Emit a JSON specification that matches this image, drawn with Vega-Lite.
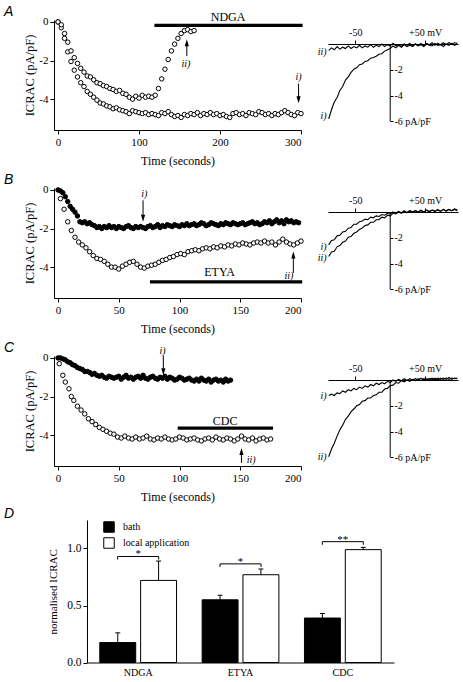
{
  "$schema": "https://vega.github.io/schema/vega-lite/v6.json",
  "padding": {"left": 3, "top": 4, "right": 2, "bottom": 3},
  "background": "white",
  "config": {
    "view": {"stroke": null},
    "font": "Liberation Serif",
    "mark": {"color": "black"},
    "axis": {"domainColor": "black", "tickColor": "black", "labelColor": "black", "titleColor": "black", "labelFont": "Liberation Serif", "titleFont": "Liberation Serif", "labelFontSize": 11, "titleFontSize": 12.5, "titleFontWeight": "normal", "grid": false, "tickSize": 4, "labelPadding": 2, "titlePadding": 5, "domainWidth": 1, "tickWidth": 1},
    "title": {"font": "Liberation Sans", "fontStyle": "italic", "fontWeight": "normal", "fontSize": 14, "anchor": "start", "frame": "group", "color": "black", "offset": -1},
    "text": {"font": "Liberation Serif", "color": "black", "fill": "black"}
  },
  "spacing": 4,
  "resolve": {"legend": {"fill": "independent"}},
  "vconcat": [
    {
      "spacing": 5,
      "vconcat": [
        {
          "hconcat": [
            {
              "width": 247, "height": 110,
              "layer": [
                {"data": {"name": "tA"}, "mark": {"type": "point", "shape": "circle", "filled": true, "stroke": "black", "strokeWidth": 1, "size": 20, "opacity": 1, "fillOpacity": 1, "fill": "white"},
                 "encoding": {
                   "x": {"field": "t", "type": "quantitative", "scale": {"domain": [-5, 300], "nice": false, "zero": false}, "axis": {"values": [0, 100, 200, 300], "title": "Time (seconds)", "titleFontSize": 12, "titlePadding": 8.5}},
                   "y": {"field": "v", "type": "quantitative", "scale": {"domain": [-5.6, 0.1], "nice": false, "zero": false}, "axis": {"values": [0, -2, -4], "labelExpr": "'' + datum.value", "title": "ICRAC (pA/pF)", "titlePadding": 2}}
                 }},
                {"data": {"values": [{}]}, "mark": {"type": "text", "text": "A", "font": "Liberation Sans", "fontStyle": "italic", "fontSize": 14, "align": "left", "baseline": "alphabetic", "color": "black"}, "encoding": {"x": {"datum": -66.7}, "y": {"datum": 0.33}}},
                {"data": {"values": [{}]}, "mark": {"type": "rule", "strokeWidth": 3.3, "color": "black"}, "encoding": {"x": {"datum": 119}, "x2": {"datum": 302}, "y": {"datum": -0.18}}},
                {"data": {"values": [{}]}, "mark": {"type": "text", "text": "NDGA", "fontSize": 12, "baseline": "middle", "color": "black"}, "encoding": {"x": {"datum": 210}, "y": {"datum": 0.28}}},
                {"data": {"values": [{}]}, "mark": {"type": "rule", "color": "black"}, "encoding": {"x": {"datum": 297}, "y": {"datum": -3.2}, "y2": {"datum": -4.0}}},
                {"data": {"values": [{}]}, "mark": {"type": "point", "shape": "M0,0L-0.6,-2L0.6,-2Z", "size": 49, "filled": true, "color": "black", "opacity": 1, "strokeWidth": 0}, "encoding": {"x": {"datum": 297}, "y": {"datum": -4.22}}},
                {"data": {"values": [{}]}, "mark": {"type": "text", "text": "i)", "fontStyle": "italic", "fontSize": 10, "baseline": "middle", "color": "black"}, "encoding": {"x": {"datum": 297}, "y": {"datum": -2.85}}},
                {"data": {"values": [{}]}, "mark": {"type": "rule", "color": "black"}, "encoding": {"x": {"datum": 159}, "y": {"datum": -1.76}, "y2": {"datum": -1.1}}},
                {"data": {"values": [{}]}, "mark": {"type": "point", "shape": "M0,0L-0.6,2L0.6,2Z", "size": 49, "filled": true, "color": "black", "opacity": 1, "strokeWidth": 0}, "encoding": {"x": {"datum": 159}, "y": {"datum": -0.9}}},
                {"data": {"values": [{}]}, "mark": {"type": "text", "text": "ii)", "fontStyle": "italic", "fontSize": 10, "baseline": "middle", "color": "black"}, "encoding": {"x": {"datum": 158}, "y": {"datum": -2.2}}}
              ]
            },
            {
              "width": 130, "height": 101.4,
              "layer": [
                {"data": {"name": "ivA"}, "mark": {"type": "line", "color": "black", "strokeWidth": 1.1},
                 "encoding": {
                   "x": {"field": "V", "type": "quantitative", "scale": {"domain": [-89, 97], "nice": false, "zero": false}, "axis": {"orient": "top", "offset": -24, "values": [-50, 50], "labelExpr": "datum.value > 0 ? '+50 mV' : '-50'", "title": null, "labelFontSize": 10, "labelPadding": 3}},
                   "y": {"field": "I", "type": "quantitative", "scale": {"domain": [-6, 1.86], "nice": false, "zero": false}, "axis": {"orient": "right", "offset": -68, "values": [-2, -4, -6], "labelExpr": "datum.value == -6 ? '-6 pA/pF' : '' + datum.value", "domain": false, "title": null, "labelFontSize": 10, "tickSize": 3, "labelPadding": 1}},
                   "detail": {"field": "s"}
                 }},
                {"data": {"values": [{}]}, "mark": {"type": "rule", "color": "black"}, "encoding": {"x": {"datum": 0}, "y": {"datum": 0}, "y2": {"datum": -6}}},
                {"data": {"values": [{}]}, "mark": {"type": "text", "text": "ii)", "fontStyle": "italic", "fontSize": 10, "align": "right", "baseline": "middle", "color": "black"}, "encoding": {"x": {"datum": -91}, "y": {"datum": -0.6}}},
                {"data": {"values": [{}]}, "mark": {"type": "text", "text": "i)", "fontStyle": "italic", "fontSize": 10, "align": "right", "baseline": "middle", "color": "black"}, "encoding": {"x": {"datum": -91}, "y": {"datum": -5.6}}}
              ]
            }
          ],
          "spacing": 27,
          "bounds": "flush"
        },
        {
          "hconcat": [
            {
              "width": 247, "height": 110,
              "layer": [
                {"data": {"name": "tB"}, "mark": {"type": "point", "shape": "circle", "filled": true, "stroke": "black", "strokeWidth": 1, "size": 20, "opacity": 1, "fillOpacity": 1},
                 "encoding": {
                   "x": {"field": "t", "type": "quantitative", "scale": {"domain": [-3.3, 200], "nice": false, "zero": false}, "axis": {"values": [0, 50, 100, 150, 200], "title": "Time (seconds)", "titleFontSize": 12, "titlePadding": 8.5}},
                   "y": {"field": "v", "type": "quantitative", "scale": {"domain": [-5.6, 0.1], "nice": false, "zero": false}, "axis": {"values": [0, -2, -4], "labelExpr": "'' + datum.value", "title": "ICRAC (pA/pF)", "titlePadding": 2}},
                   "fill": {"condition": {"test": "datum.s == 'F'", "value": "black"}, "value": "white"}
                 }},
                {"data": {"values": [{}]}, "mark": {"type": "text", "text": "B", "font": "Liberation Sans", "fontStyle": "italic", "fontSize": 14, "align": "left", "baseline": "alphabetic", "color": "black"}, "encoding": {"x": {"datum": -44.5}, "y": {"datum": 0.33}}},
                {"data": {"values": [{}]}, "mark": {"type": "rule", "strokeWidth": 3.3, "color": "black"}, "encoding": {"x": {"datum": 75.7}, "x2": {"datum": 201}, "y": {"datum": -4.76}}},
                {"data": {"values": [{}]}, "mark": {"type": "text", "text": "ETYA", "fontSize": 12, "baseline": "middle", "color": "black"}, "encoding": {"x": {"datum": 133}, "y": {"datum": -4.23}}},
                {"data": {"values": [{}]}, "mark": {"type": "rule", "color": "black"}, "encoding": {"x": {"datum": 70}, "y": {"datum": -0.54}, "y2": {"datum": -1.3}}},
                {"data": {"values": [{}]}, "mark": {"type": "point", "shape": "M0,0L-0.6,-2L0.6,-2Z", "size": 49, "filled": true, "color": "black", "opacity": 1, "strokeWidth": 0}, "encoding": {"x": {"datum": 70}, "y": {"datum": -1.65}}},
                {"data": {"values": [{}]}, "mark": {"type": "text", "text": "i)", "fontStyle": "italic", "fontSize": 10, "baseline": "middle", "color": "black"}, "encoding": {"x": {"datum": 71}, "y": {"datum": -0.23}}},
                {"data": {"values": [{}]}, "mark": {"type": "rule", "color": "black"}, "encoding": {"x": {"datum": 193.7}, "y": {"datum": -4.3}, "y2": {"datum": -3.5}}},
                {"data": {"values": [{}]}, "mark": {"type": "point", "shape": "M0,0L-0.6,2L0.6,2Z", "size": 49, "filled": true, "color": "black", "opacity": 1, "strokeWidth": 0}, "encoding": {"x": {"datum": 193.7}, "y": {"datum": -3.19}}},
                {"data": {"values": [{}]}, "mark": {"type": "text", "text": "ii)", "fontStyle": "italic", "fontSize": 10, "baseline": "middle", "color": "black"}, "encoding": {"x": {"datum": 190}, "y": {"datum": -4.47}}}
              ]
            },
            {
              "width": 130, "height": 101.4,
              "layer": [
                {"data": {"name": "ivB"}, "mark": {"type": "line", "color": "black", "strokeWidth": 1.1},
                 "encoding": {
                   "x": {"field": "V", "type": "quantitative", "scale": {"domain": [-89, 97], "nice": false, "zero": false}, "axis": {"orient": "top", "offset": -24, "values": [-50, 50], "labelExpr": "datum.value > 0 ? '+50 mV' : '-50'", "title": null, "labelFontSize": 10, "labelPadding": 3}},
                   "y": {"field": "I", "type": "quantitative", "scale": {"domain": [-6, 1.86], "nice": false, "zero": false}, "axis": {"orient": "right", "offset": -68, "values": [-2, -4, -6], "labelExpr": "datum.value == -6 ? '-6 pA/pF' : '' + datum.value", "domain": false, "title": null, "labelFontSize": 10, "tickSize": 3, "labelPadding": 1}},
                   "detail": {"field": "s"}
                 }},
                {"data": {"values": [{}]}, "mark": {"type": "rule", "color": "black"}, "encoding": {"x": {"datum": 0}, "y": {"datum": 0}, "y2": {"datum": -6}}},
                {"data": {"values": [{}]}, "mark": {"type": "text", "text": "i)", "fontStyle": "italic", "fontSize": 10, "align": "right", "baseline": "middle", "color": "black"}, "encoding": {"x": {"datum": -91}, "y": {"datum": -2.75}}},
                {"data": {"values": [{}]}, "mark": {"type": "text", "text": "ii)", "fontStyle": "italic", "fontSize": 10, "align": "right", "baseline": "middle", "color": "black"}, "encoding": {"x": {"datum": -91}, "y": {"datum": -3.55}}}
              ]
            }
          ],
          "spacing": 27,
          "bounds": "flush"
        },
        {
          "hconcat": [
            {
              "width": 247, "height": 110,
              "layer": [
                {"data": {"name": "tC"}, "mark": {"type": "point", "shape": "circle", "filled": true, "stroke": "black", "strokeWidth": 1, "size": 20, "opacity": 1, "fillOpacity": 1},
                 "encoding": {
                   "x": {"field": "t", "type": "quantitative", "scale": {"domain": [-3.3, 200], "nice": false, "zero": false}, "axis": {"values": [0, 50, 100, 150, 200], "title": "Time (seconds)", "titleFontSize": 12, "titlePadding": 8.5}},
                   "y": {"field": "v", "type": "quantitative", "scale": {"domain": [-5.6, 0.1], "nice": false, "zero": false}, "axis": {"values": [0, -2, -4], "labelExpr": "'' + datum.value", "title": "ICRAC (pA/pF)", "titlePadding": 2}},
                   "fill": {"condition": {"test": "datum.s == 'F'", "value": "black"}, "value": "white"}
                 }},
                {"data": {"values": [{}]}, "mark": {"type": "text", "text": "C", "font": "Liberation Sans", "fontStyle": "italic", "fontSize": 14, "align": "left", "baseline": "alphabetic", "color": "black"}, "encoding": {"x": {"datum": -44.5}, "y": {"datum": 0.33}}},
                {"data": {"values": [{}]}, "mark": {"type": "rule", "strokeWidth": 3.3, "color": "black"}, "encoding": {"x": {"datum": 98.5}, "x2": {"datum": 177}, "y": {"datum": -3.64}}},
                {"data": {"values": [{}]}, "mark": {"type": "text", "text": "CDC", "fontSize": 12, "baseline": "middle", "color": "black"}, "encoding": {"x": {"datum": 137.5}, "y": {"datum": -3.27}}},
                {"data": {"values": [{}]}, "mark": {"type": "rule", "color": "black"}, "encoding": {"x": {"datum": 86.7}, "y": {"datum": 0.12}, "y2": {"datum": -0.55}}},
                {"data": {"values": [{}]}, "mark": {"type": "point", "shape": "M0,0L-0.6,-2L0.6,-2Z", "size": 49, "filled": true, "color": "black", "opacity": 1, "strokeWidth": 0}, "encoding": {"x": {"datum": 86.7}, "y": {"datum": -0.9}}},
                {"data": {"values": [{}]}, "mark": {"type": "text", "text": "i)", "fontStyle": "italic", "fontSize": 10, "baseline": "middle", "color": "black"}, "encoding": {"x": {"datum": 86}, "y": {"datum": 0.37}}},
                {"data": {"values": [{}]}, "mark": {"type": "rule", "color": "black"}, "encoding": {"x": {"datum": 151}, "y": {"datum": -5.44}, "y2": {"datum": -5.0}}},
                {"data": {"values": [{}]}, "mark": {"type": "point", "shape": "M0,0L-0.6,2L0.6,2Z", "size": 49, "filled": true, "color": "black", "opacity": 1, "strokeWidth": 0}, "encoding": {"x": {"datum": 151}, "y": {"datum": -4.67}}},
                {"data": {"values": [{}]}, "mark": {"type": "text", "text": "ii)", "fontStyle": "italic", "fontSize": 10, "baseline": "middle", "color": "black"}, "encoding": {"x": {"datum": 159}, "y": {"datum": -5.3}}}
              ]
            },
            {
              "width": 130, "height": 101.4,
              "layer": [
                {"data": {"name": "ivC"}, "mark": {"type": "line", "color": "black", "strokeWidth": 1.1},
                 "encoding": {
                   "x": {"field": "V", "type": "quantitative", "scale": {"domain": [-89, 97], "nice": false, "zero": false}, "axis": {"orient": "top", "offset": -24, "values": [-50, 50], "labelExpr": "datum.value > 0 ? '+50 mV' : '-50'", "title": null, "labelFontSize": 10, "labelPadding": 3}},
                   "y": {"field": "I", "type": "quantitative", "scale": {"domain": [-6, 1.86], "nice": false, "zero": false}, "axis": {"orient": "right", "offset": -68, "values": [-2, -4, -6], "labelExpr": "datum.value == -6 ? '-6 pA/pF' : '' + datum.value", "domain": false, "title": null, "labelFontSize": 10, "tickSize": 3, "labelPadding": 1}},
                   "detail": {"field": "s"}
                 }},
                {"data": {"values": [{}]}, "mark": {"type": "rule", "color": "black"}, "encoding": {"x": {"datum": 0}, "y": {"datum": 0}, "y2": {"datum": -6}}},
                {"data": {"values": [{}]}, "mark": {"type": "text", "text": "i)", "fontStyle": "italic", "fontSize": 10, "align": "right", "baseline": "middle", "color": "black"}, "encoding": {"x": {"datum": -91}, "y": {"datum": -1.25}}},
                {"data": {"values": [{}]}, "mark": {"type": "text", "text": "ii)", "fontStyle": "italic", "fontSize": 10, "align": "right", "baseline": "middle", "color": "black"}, "encoding": {"x": {"datum": -91}, "y": {"datum": -6.0}}}
              ]
            }
          ],
          "spacing": 27,
          "bounds": "flush"
        }
      ]
    },
    {
      "hconcat": [
        {"width": 1, "height": 1, "data": {"values": [{}]}, "mark": {"type": "text", "text": ""}, "encoding": {}},
        {
          "title": {"text": "D", "dx": -83},
          "width": 307, "height": 142.5,
          "layer": [
            {"data": {"name": "bars"}, "mark": {"type": "bar", "stroke": "black", "strokeWidth": 1},
             "encoding": {
               "x": {"field": "c", "type": "nominal", "sort": ["NDGA", "ETYA", "CDC"], "scale": {"paddingInner": 0.25, "paddingOuter": 0.125}, "axis": {"title": null, "labelAngle": 0, "ticks": false, "labelFontSize": 10, "labelPadding": 5}},
               "xOffset": {"field": "g", "type": "nominal", "sort": ["bath", "local application"], "scale": {"paddingInner": 0.12}},
               "y": {"field": "m", "type": "quantitative", "scale": {"domain": [0, 1.25], "nice": false}, "axis": {"values": [0, 0.5, 1], "format": ".1f", "title": "normalised ICRAC", "labelFontSize": 11.5, "titleFontSize": 11, "labelPadding": 2, "titlePadding": 8}},
               "fill": {"field": "g", "type": "nominal", "scale": {"domain": ["bath", "local application"], "range": ["black", "white"]}, "legend": {"orient": "none", "legendX": 16, "legendY": 1, "title": null, "symbolType": "square", "symbolSize": 110, "symbolStrokeColor": "black", "symbolStrokeWidth": 1, "symbolOpacity": 1, "labelFont": "Liberation Serif", "labelFontSize": 10, "labelColor": "black", "labelOffset": 8, "rowPadding": 0, "padding": 0}}
             }},
            {"data": {"name": "bars"}, "mark": {"type": "rule", "color": "black", "strokeWidth": 1},
             "encoding": {
               "x": {"field": "c", "type": "nominal", "sort": ["NDGA", "ETYA", "CDC"]},
               "xOffset": {"field": "g", "type": "nominal", "sort": ["bath", "local application"]},
               "y": {"field": "m", "type": "quantitative"},
               "y2": {"field": "e"}
             }},
            {"data": {"name": "bars"}, "mark": {"type": "tick", "color": "black", "thickness": 1, "size": 5, "orient": "horizontal", "opacity": 1},
             "encoding": {
               "x": {"field": "c", "type": "nominal", "sort": ["NDGA", "ETYA", "CDC"]},
               "xOffset": {"field": "g", "type": "nominal", "sort": ["bath", "local application"]},
               "y": {"field": "e", "type": "quantitative"}
             }},
            {"data": {"name": "sig"}, "mark": {"type": "point", "shape": "M-1,0.15L-1,0L1,0L1,0.15", "size": 1681, "filled": false, "stroke": "black", "strokeWidth": 1, "opacity": 1},
             "encoding": {
               "x": {"field": "c", "type": "nominal", "sort": ["NDGA", "ETYA", "CDC"]},
               "y": {"field": "h", "type": "quantitative"}
             }},
            {"data": {"name": "sig"}, "mark": {"type": "text", "fontSize": 11, "baseline": "alphabetic", "dy": 1, "color": "black"},
             "encoding": {
               "x": {"field": "c", "type": "nominal", "sort": ["NDGA", "ETYA", "CDC"]},
               "y": {"field": "h", "type": "quantitative"},
               "text": {"field": "sig"}
             }}
          ]
        }
      ],
      "spacing": 32,
      "bounds": "flush",
      "resolve": {"legend": {"fill": "independent"}}
    }
  ],
  "datasets": {
    "bars": [
      {"c": "NDGA", "g": "bath", "m": 0.175, "e": 0.26},
      {"c": "NDGA", "g": "local application", "m": 0.72, "e": 0.89},
      {"c": "ETYA", "g": "bath", "m": 0.55, "e": 0.59},
      {"c": "ETYA", "g": "local application", "m": 0.77, "e": 0.82},
      {"c": "CDC", "g": "bath", "m": 0.39, "e": 0.43},
      {"c": "CDC", "g": "local application", "m": 0.99, "e": 1.01}
    ],
    "sig": [
      {"c": "NDGA", "h": 0.93, "sig": "*"},
      {"c": "ETYA", "h": 0.865, "sig": "*"},
      {"c": "CDC", "h": 1.06, "sig": "**"}
    ],
    "tA": [
      {"s":"L","t":0,"v":0},{"s":"L","t":4,"v":-0.3},{"s":"L","t":8,"v":-0.85},{"s":"L","t":12,"v":-1.55},{"s":"L","t":16,"v":-2.05},{"s":"L","t":20,"v":-2.5},{"s":"L","t":24,"v":-2.85},{"s":"L","t":28,"v":-3.15},{"s":"L","t":32,"v":-3.35},{"s":"L","t":36,"v":-3.6},{"s":"L","t":40,"v":-3.75},{"s":"L","t":44,"v":-3.9},{"s":"L","t":48,"v":-4.05},{"s":"L","t":52,"v":-4.2},{"s":"L","t":56,"v":-4.25},{"s":"L","t":60,"v":-4.35},{"s":"L","t":64,"v":-4.4},{"s":"L","t":68,"v":-4.5},{"s":"L","t":72,"v":-4.45},{"s":"L","t":76,"v":-4.55},{"s":"L","t":80,"v":-4.6},{"s":"L","t":84,"v":-4.65},{"s":"L","t":88,"v":-4.75},{"s":"L","t":92,"v":-4.6},{"s":"L","t":96,"v":-4.65},{"s":"L","t":100,"v":-4.7},{"s":"L","t":104,"v":-4.75},{"s":"L","t":108,"v":-4.7},{"s":"L","t":112,"v":-4.8},{"s":"L","t":116,"v":-4.75},{"s":"L","t":120,"v":-4.8},{"s":"L","t":124,"v":-4.85},{"s":"L","t":128,"v":-4.7},{"s":"L","t":132,"v":-4.75},{"s":"L","t":136,"v":-4.65},{"s":"L","t":140,"v":-4.8},{"s":"L","t":144,"v":-4.9},{"s":"L","t":148,"v":-4.85},{"s":"L","t":152,"v":-4.95},{"s":"L","t":156,"v":-4.8},{"s":"L","t":160,"v":-4.85},{"s":"L","t":164,"v":-4.75},{"s":"L","t":168,"v":-4.8},{"s":"L","t":172,"v":-4.7},{"s":"L","t":176,"v":-4.85},{"s":"L","t":180,"v":-4.75},{"s":"L","t":184,"v":-4.8},{"s":"L","t":188,"v":-4.7},{"s":"L","t":192,"v":-4.8},{"s":"L","t":196,"v":-4.75},{"s":"L","t":200,"v":-4.85},{"s":"L","t":204,"v":-4.8},{"s":"L","t":208,"v":-4.9},{"s":"L","t":212,"v":-4.95},{"s":"L","t":216,"v":-4.75},{"s":"L","t":220,"v":-4.7},{"s":"L","t":224,"v":-4.8},{"s":"L","t":228,"v":-4.75},{"s":"L","t":232,"v":-4.85},{"s":"L","t":236,"v":-4.7},{"s":"L","t":240,"v":-4.75},{"s":"L","t":244,"v":-4.8},{"s":"L","t":248,"v":-4.65},{"s":"L","t":252,"v":-4.7},{"s":"L","t":256,"v":-4.8},{"s":"L","t":260,"v":-4.75},{"s":"L","t":264,"v":-4.85},{"s":"L","t":268,"v":-4.75},{"s":"L","t":272,"v":-4.8},{"s":"L","t":276,"v":-4.7},{"s":"L","t":280,"v":-4.6},{"s":"L","t":284,"v":-4.7},{"s":"L","t":288,"v":-4.8},{"s":"L","t":292,"v":-4.85},{"s":"L","t":296,"v":-4.7},{"s":"L","t":300,"v":-4.75},
      {"s":"U","t":0,"v":0},{"s":"U","t":4,"v":-0.15},{"s":"U","t":8,"v":-0.6},{"s":"U","t":12,"v":-1.05},{"s":"U","t":16,"v":-1.5},{"s":"U","t":20,"v":-1.85},{"s":"U","t":24,"v":-2.15},{"s":"U","t":28,"v":-2.4},{"s":"U","t":32,"v":-2.6},{"s":"U","t":36,"v":-2.8},{"s":"U","t":40,"v":-2.85},{"s":"U","t":44,"v":-3.0},{"s":"U","t":48,"v":-3.15},{"s":"U","t":52,"v":-3.2},{"s":"U","t":56,"v":-3.3},{"s":"U","t":60,"v":-3.35},{"s":"U","t":64,"v":-3.45},{"s":"U","t":68,"v":-3.5},{"s":"U","t":72,"v":-3.6},{"s":"U","t":76,"v":-3.55},{"s":"U","t":80,"v":-3.7},{"s":"U","t":84,"v":-3.75},{"s":"U","t":88,"v":-3.9},{"s":"U","t":92,"v":-4.0},{"s":"U","t":96,"v":-3.85},{"s":"U","t":100,"v":-3.95},{"s":"U","t":104,"v":-3.8},{"s":"U","t":108,"v":-3.9},{"s":"U","t":112,"v":-3.85},{"s":"U","t":116,"v":-3.9},{"s":"U","t":120,"v":-3.8},{"s":"U","t":124,"v":-3.45},{"s":"U","t":128,"v":-2.95},{"s":"U","t":132,"v":-2.45},{"s":"U","t":136,"v":-1.95},{"s":"U","t":140,"v":-1.5},{"s":"U","t":144,"v":-1.15},{"s":"U","t":148,"v":-0.85},{"s":"U","t":152,"v":-0.6},{"s":"U","t":156,"v":-0.45},{"s":"U","t":160,"v":-0.4},{"s":"U","t":164,"v":-0.5},{"s":"U","t":168,"v":-0.45}
    ],
    "tB": [
      {"s":"O","t":2,"v":-0.45},{"s":"O","t":5,"v":-1.0},{"s":"O","t":8,"v":-1.65},{"s":"O","t":11,"v":-2.1},{"s":"O","t":14,"v":-2.45},{"s":"O","t":17,"v":-2.7},{"s":"O","t":20,"v":-2.85},{"s":"O","t":23,"v":-3.0},{"s":"O","t":26,"v":-3.2},{"s":"O","t":29,"v":-3.4},{"s":"O","t":32,"v":-3.55},{"s":"O","t":35,"v":-3.6},{"s":"O","t":38,"v":-3.7},{"s":"O","t":41,"v":-3.85},{"s":"O","t":44,"v":-4.0},{"s":"O","t":47,"v":-4.0},{"s":"O","t":50,"v":-4.1},{"s":"O","t":53,"v":-3.95},{"s":"O","t":56,"v":-3.85},{"s":"O","t":59,"v":-3.75},{"s":"O","t":62,"v":-3.7},{"s":"O","t":65,"v":-3.85},{"s":"O","t":68,"v":-4.0},{"s":"O","t":71,"v":-4.05},{"s":"O","t":74,"v":-3.95},{"s":"O","t":77,"v":-3.9},{"s":"O","t":80,"v":-3.85},{"s":"O","t":83,"v":-3.75},{"s":"O","t":86,"v":-3.65},{"s":"O","t":89,"v":-3.6},{"s":"O","t":92,"v":-3.5},{"s":"O","t":95,"v":-3.45},{"s":"O","t":98,"v":-3.35},{"s":"O","t":101,"v":-3.3},{"s":"O","t":104,"v":-3.35},{"s":"O","t":107,"v":-3.2},{"s":"O","t":110,"v":-3.15},{"s":"O","t":113,"v":-3.1},{"s":"O","t":116,"v":-3.15},{"s":"O","t":119,"v":-3.05},{"s":"O","t":122,"v":-3.0},{"s":"O","t":125,"v":-3.05},{"s":"O","t":128,"v":-2.95},{"s":"O","t":131,"v":-3.0},{"s":"O","t":134,"v":-2.9},{"s":"O","t":137,"v":-2.95},{"s":"O","t":140,"v":-2.85},{"s":"O","t":143,"v":-2.9},{"s":"O","t":146,"v":-2.8},{"s":"O","t":149,"v":-2.85},{"s":"O","t":152,"v":-2.75},{"s":"O","t":155,"v":-2.8},{"s":"O","t":158,"v":-2.85},{"s":"O","t":161,"v":-2.75},{"s":"O","t":164,"v":-2.7},{"s":"O","t":167,"v":-2.75},{"s":"O","t":170,"v":-2.65},{"s":"O","t":173,"v":-2.75},{"s":"O","t":176,"v":-2.7},{"s":"O","t":179,"v":-2.85},{"s":"O","t":182,"v":-2.7},{"s":"O","t":185,"v":-2.55},{"s":"O","t":188,"v":-2.7},{"s":"O","t":191,"v":-2.8},{"s":"O","t":194,"v":-2.85},{"s":"O","t":197,"v":-2.75},{"s":"O","t":200,"v":-2.65},
      {"s":"F","t":0,"v":0},{"s":"F","t":2,"v":-0.05},{"s":"F","t":4,"v":-0.15},{"s":"F","t":6,"v":-0.35},{"s":"F","t":8,"v":-0.6},{"s":"F","t":10,"v":-0.85},{"s":"F","t":12,"v":-1.0},{"s":"F","t":14,"v":-1.15},{"s":"F","t":16,"v":-1.35},{"s":"F","t":18,"v":-1.65},{"s":"F","t":20,"v":-1.7},{"s":"F","t":22,"v":-1.65},{"s":"F","t":24,"v":-1.75},{"s":"F","t":26,"v":-1.7},{"s":"F","t":28,"v":-1.8},{"s":"F","t":30,"v":-1.85},{"s":"F","t":32,"v":-1.95},{"s":"F","t":34,"v":-1.9},{"s":"F","t":36,"v":-2.0},{"s":"F","t":38,"v":-1.9},{"s":"F","t":40,"v":-1.95},{"s":"F","t":42,"v":-1.85},{"s":"F","t":44,"v":-1.95},{"s":"F","t":46,"v":-1.9},{"s":"F","t":48,"v":-2.0},{"s":"F","t":50,"v":-1.9},{"s":"F","t":52,"v":-1.95},{"s":"F","t":54,"v":-2.0},{"s":"F","t":56,"v":-1.9},{"s":"F","t":58,"v":-1.85},{"s":"F","t":60,"v":-1.95},{"s":"F","t":62,"v":-2.0},{"s":"F","t":64,"v":-1.9},{"s":"F","t":66,"v":-1.95},{"s":"F","t":68,"v":-1.9},{"s":"F","t":70,"v":-1.95},{"s":"F","t":72,"v":-2.0},{"s":"F","t":74,"v":-1.9},{"s":"F","t":76,"v":-1.85},{"s":"F","t":78,"v":-1.95},{"s":"F","t":80,"v":-1.9},{"s":"F","t":82,"v":-1.8},{"s":"F","t":84,"v":-1.95},{"s":"F","t":86,"v":-1.85},{"s":"F","t":88,"v":-1.9},{"s":"F","t":90,"v":-1.8},{"s":"F","t":92,"v":-1.85},{"s":"F","t":94,"v":-1.9},{"s":"F","t":96,"v":-1.8},{"s":"F","t":98,"v":-1.85},{"s":"F","t":100,"v":-1.9},{"s":"F","t":102,"v":-1.8},{"s":"F","t":104,"v":-1.85},{"s":"F","t":106,"v":-1.75},{"s":"F","t":108,"v":-1.85},{"s":"F","t":110,"v":-1.8},{"s":"F","t":112,"v":-1.75},{"s":"F","t":114,"v":-1.85},{"s":"F","t":116,"v":-1.8},{"s":"F","t":118,"v":-1.7},{"s":"F","t":120,"v":-1.75},{"s":"F","t":122,"v":-1.85},{"s":"F","t":124,"v":-1.8},{"s":"F","t":126,"v":-1.7},{"s":"F","t":128,"v":-1.75},{"s":"F","t":130,"v":-1.8},{"s":"F","t":132,"v":-1.85},{"s":"F","t":134,"v":-1.75},{"s":"F","t":136,"v":-1.8},{"s":"F","t":138,"v":-1.7},{"s":"F","t":140,"v":-1.75},{"s":"F","t":142,"v":-1.8},{"s":"F","t":144,"v":-1.7},{"s":"F","t":146,"v":-1.75},{"s":"F","t":148,"v":-1.8},{"s":"F","t":150,"v":-1.75},{"s":"F","t":152,"v":-1.7},{"s":"F","t":154,"v":-1.8},{"s":"F","t":156,"v":-1.75},{"s":"F","t":158,"v":-1.7},{"s":"F","t":160,"v":-1.65},{"s":"F","t":162,"v":-1.75},{"s":"F","t":164,"v":-1.7},{"s":"F","t":166,"v":-1.8},{"s":"F","t":168,"v":-1.75},{"s":"F","t":170,"v":-1.65},{"s":"F","t":172,"v":-1.7},{"s":"F","t":174,"v":-1.6},{"s":"F","t":176,"v":-1.75},{"s":"F","t":178,"v":-1.65},{"s":"F","t":180,"v":-1.55},{"s":"F","t":182,"v":-1.7},{"s":"F","t":184,"v":-1.6},{"s":"F","t":186,"v":-1.75},{"s":"F","t":188,"v":-1.55},{"s":"F","t":190,"v":-1.65},{"s":"F","t":192,"v":-1.6},{"s":"F","t":194,"v":-1.7},{"s":"F","t":196,"v":-1.65},{"s":"F","t":198,"v":-1.7}
    ],
    "tC": [
      {"s":"O","t":1,"v":-0.3},{"s":"O","t":4,"v":-0.9},{"s":"O","t":6,"v":-1.25},{"s":"O","t":9,"v":-1.6},{"s":"O","t":11,"v":-2.0},{"s":"O","t":13,"v":-2.2},{"s":"O","t":16,"v":-2.5},{"s":"O","t":19,"v":-2.7},{"s":"O","t":22,"v":-2.9},{"s":"O","t":25,"v":-3.15},{"s":"O","t":28,"v":-3.3},{"s":"O","t":31,"v":-3.45},{"s":"O","t":34,"v":-3.6},{"s":"O","t":37,"v":-3.7},{"s":"O","t":40,"v":-3.8},{"s":"O","t":43,"v":-3.9},{"s":"O","t":46,"v":-3.95},{"s":"O","t":49,"v":-4.1},{"s":"O","t":52,"v":-4.15},{"s":"O","t":55,"v":-4.05},{"s":"O","t":58,"v":-4.15},{"s":"O","t":61,"v":-4.2},{"s":"O","t":64,"v":-4.1},{"s":"O","t":67,"v":-4.2},{"s":"O","t":70,"v":-4.15},{"s":"O","t":73,"v":-4.05},{"s":"O","t":76,"v":-4.2},{"s":"O","t":79,"v":-4.25},{"s":"O","t":82,"v":-4.15},{"s":"O","t":85,"v":-4.2},{"s":"O","t":88,"v":-4.1},{"s":"O","t":91,"v":-4.2},{"s":"O","t":94,"v":-4.25},{"s":"O","t":97,"v":-4.2},{"s":"O","t":100,"v":-4.1},{"s":"O","t":103,"v":-4.15},{"s":"O","t":106,"v":-4.25},{"s":"O","t":109,"v":-4.2},{"s":"O","t":112,"v":-4.15},{"s":"O","t":115,"v":-4.25},{"s":"O","t":118,"v":-4.3},{"s":"O","t":121,"v":-4.2},{"s":"O","t":124,"v":-4.15},{"s":"O","t":127,"v":-4.25},{"s":"O","t":130,"v":-4.1},{"s":"O","t":133,"v":-4.2},{"s":"O","t":136,"v":-4.25},{"s":"O","t":139,"v":-4.15},{"s":"O","t":142,"v":-4.2},{"s":"O","t":145,"v":-4.3},{"s":"O","t":148,"v":-4.2},{"s":"O","t":151,"v":-4.05},{"s":"O","t":154,"v":-4.2},{"s":"O","t":157,"v":-4.25},{"s":"O","t":160,"v":-4.15},{"s":"O","t":163,"v":-4.3},{"s":"O","t":166,"v":-4.2},{"s":"O","t":169,"v":-4.15},{"s":"O","t":172,"v":-4.25},{"s":"O","t":175,"v":-4.2},
      {"s":"F","t":0,"v":0},{"s":"F","t":2,"v":0},{"s":"F","t":4,"v":-0.05},{"s":"F","t":6,"v":-0.1},{"s":"F","t":8,"v":-0.2},{"s":"F","t":10,"v":-0.25},{"s":"F","t":12,"v":-0.35},{"s":"F","t":14,"v":-0.4},{"s":"F","t":16,"v":-0.5},{"s":"F","t":18,"v":-0.55},{"s":"F","t":20,"v":-0.6},{"s":"F","t":22,"v":-0.7},{"s":"F","t":24,"v":-0.7},{"s":"F","t":26,"v":-0.75},{"s":"F","t":28,"v":-0.85},{"s":"F","t":30,"v":-0.8},{"s":"F","t":32,"v":-0.9},{"s":"F","t":34,"v":-0.95},{"s":"F","t":36,"v":-0.9},{"s":"F","t":38,"v":-1.0},{"s":"F","t":40,"v":-1.05},{"s":"F","t":42,"v":-0.95},{"s":"F","t":44,"v":-1.0},{"s":"F","t":46,"v":-1.05},{"s":"F","t":48,"v":-1.0},{"s":"F","t":50,"v":-0.95},{"s":"F","t":52,"v":-1.1},{"s":"F","t":54,"v":-1.0},{"s":"F","t":56,"v":-0.9},{"s":"F","t":58,"v":-1.05},{"s":"F","t":60,"v":-1.0},{"s":"F","t":62,"v":-1.1},{"s":"F","t":64,"v":-1.0},{"s":"F","t":66,"v":-0.95},{"s":"F","t":68,"v":-1.05},{"s":"F","t":70,"v":-0.9},{"s":"F","t":72,"v":-1.05},{"s":"F","t":74,"v":-1.1},{"s":"F","t":76,"v":-1.0},{"s":"F","t":78,"v":-0.95},{"s":"F","t":80,"v":-1.05},{"s":"F","t":82,"v":-1.1},{"s":"F","t":84,"v":-1.0},{"s":"F","t":86,"v":-1.05},{"s":"F","t":88,"v":-0.95},{"s":"F","t":90,"v":-1.1},{"s":"F","t":92,"v":-1.0},{"s":"F","t":94,"v":-1.05},{"s":"F","t":96,"v":-1.15},{"s":"F","t":98,"v":-1.1},{"s":"F","t":100,"v":-1.0},{"s":"F","t":102,"v":-1.05},{"s":"F","t":104,"v":-1.15},{"s":"F","t":106,"v":-1.1},{"s":"F","t":108,"v":-1.05},{"s":"F","t":110,"v":-1.15},{"s":"F","t":112,"v":-1.2},{"s":"F","t":114,"v":-1.1},{"s":"F","t":116,"v":-1.2},{"s":"F","t":118,"v":-1.05},{"s":"F","t":120,"v":-1.15},{"s":"F","t":122,"v":-1.2},{"s":"F","t":124,"v":-1.1},{"s":"F","t":126,"v":-1.25},{"s":"F","t":128,"v":-1.15},{"s":"F","t":130,"v":-1.1},{"s":"F","t":132,"v":-1.2},{"s":"F","t":134,"v":-1.15},{"s":"F","t":136,"v":-1.25},{"s":"F","t":138,"v":-1.1},{"s":"F","t":140,"v":-1.2},{"s":"F","t":142,"v":-1.15}
    ],
    "ivA": [
      {"s":"i","V":-88,"I":-5.8},{"s":"i","V":-84,"I":-5.1},{"s":"i","V":-80,"I":-4.5},{"s":"i","V":-76,"I":-4.15},{"s":"i","V":-72,"I":-3.6},{"s":"i","V":-68,"I":-3.3},{"s":"i","V":-64,"I":-2.8},{"s":"i","V":-60,"I":-2.55},{"s":"i","V":-56,"I":-2.2},{"s":"i","V":-52,"I":-1.95},{"s":"i","V":-48,"I":-1.85},{"s":"i","V":-44,"I":-1.6},{"s":"i","V":-40,"I":-1.55},{"s":"i","V":-36,"I":-1.35},{"s":"i","V":-32,"I":-1.3},{"s":"i","V":-28,"I":-1.1},{"s":"i","V":-24,"I":-1.05},{"s":"i","V":-20,"I":-0.95},{"s":"i","V":-16,"I":-0.8},{"s":"i","V":-12,"I":-0.75},{"s":"i","V":-8,"I":-0.55},{"s":"i","V":-4,"I":-0.45},{"s":"i","V":0,"I":-0.35},{"s":"i","V":4,"I":-0.15},{"s":"i","V":8,"I":-0.3},{"s":"i","V":12,"I":-0.1},{"s":"i","V":16,"I":-0.25},{"s":"i","V":20,"I":-0.05},{"s":"i","V":24,"I":-0.2},{"s":"i","V":28,"I":-0.1},{"s":"i","V":32,"I":-0.2},{"s":"i","V":36,"I":0.0},{"s":"i","V":40,"I":-0.15},{"s":"i","V":44,"I":-0.05},{"s":"i","V":48,"I":-0.2},{"s":"i","V":52,"I":0.0},{"s":"i","V":56,"I":-0.1},{"s":"i","V":60,"I":-0.15},{"s":"i","V":64,"I":0.05},{"s":"i","V":68,"I":-0.1},{"s":"i","V":72,"I":-0.05},{"s":"i","V":76,"I":-0.2},{"s":"i","V":80,"I":0.0},{"s":"i","V":84,"I":-0.1},{"s":"i","V":88,"I":0.05},{"s":"i","V":92,"I":-0.1},{"s":"i","V":96,"I":0.0},
      {"s":"ii","V":-88,"I":-0.5},{"s":"ii","V":-84,"I":-0.3},{"s":"ii","V":-80,"I":-0.45},{"s":"ii","V":-76,"I":-0.2},{"s":"ii","V":-72,"I":-0.4},{"s":"ii","V":-68,"I":-0.25},{"s":"ii","V":-64,"I":-0.35},{"s":"ii","V":-60,"I":-0.15},{"s":"ii","V":-56,"I":-0.35},{"s":"ii","V":-52,"I":-0.2},{"s":"ii","V":-48,"I":-0.3},{"s":"ii","V":-44,"I":-0.1},{"s":"ii","V":-40,"I":-0.3},{"s":"ii","V":-36,"I":-0.15},{"s":"ii","V":-32,"I":-0.25},{"s":"ii","V":-28,"I":-0.05},{"s":"ii","V":-24,"I":-0.25},{"s":"ii","V":-20,"I":-0.1},{"s":"ii","V":-16,"I":-0.2},{"s":"ii","V":-12,"I":0.0},{"s":"ii","V":-8,"I":-0.2},{"s":"ii","V":-4,"I":-0.05},{"s":"ii","V":0,"I":-0.15},{"s":"ii","V":4,"I":0.05},{"s":"ii","V":8,"I":-0.15},{"s":"ii","V":12,"I":-0.05},{"s":"ii","V":16,"I":-0.2},{"s":"ii","V":20,"I":0.0},{"s":"ii","V":24,"I":-0.1},{"s":"ii","V":28,"I":0.05},{"s":"ii","V":32,"I":-0.15},{"s":"ii","V":36,"I":0.0},{"s":"ii","V":40,"I":-0.1},{"s":"ii","V":44,"I":0.05},{"s":"ii","V":48,"I":-0.15},{"s":"ii","V":52,"I":0.05},{"s":"ii","V":56,"I":-0.05},{"s":"ii","V":60,"I":0.1},{"s":"ii","V":64,"I":-0.1},{"s":"ii","V":68,"I":0.05},{"s":"ii","V":72,"I":-0.05},{"s":"ii","V":76,"I":0.1},{"s":"ii","V":80,"I":-0.05},{"s":"ii","V":84,"I":0.1},{"s":"ii","V":88,"I":0.0},{"s":"ii","V":92,"I":0.1},{"s":"ii","V":96,"I":0.05}
    ],
    "ivB": [
      {"s":"i","V":-88,"I":-2.55},{"s":"i","V":-84,"I":-2.2},{"s":"i","V":-80,"I":-2.15},{"s":"i","V":-76,"I":-1.85},{"s":"i","V":-72,"I":-1.8},{"s":"i","V":-68,"I":-1.55},{"s":"i","V":-64,"I":-1.5},{"s":"i","V":-60,"I":-1.25},{"s":"i","V":-56,"I":-1.2},{"s":"i","V":-52,"I":-0.95},{"s":"i","V":-48,"I":-0.95},{"s":"i","V":-44,"I":-0.75},{"s":"i","V":-40,"I":-0.7},{"s":"i","V":-36,"I":-0.55},{"s":"i","V":-32,"I":-0.6},{"s":"i","V":-28,"I":-0.4},{"s":"i","V":-24,"I":-0.45},{"s":"i","V":-20,"I":-0.3},{"s":"i","V":-16,"I":-0.35},{"s":"i","V":-12,"I":-0.2},{"s":"i","V":-8,"I":-0.25},{"s":"i","V":-4,"I":-0.1},{"s":"i","V":0,"I":-0.15},{"s":"i","V":4,"I":0.0},{"s":"i","V":8,"I":-0.1},{"s":"i","V":12,"I":0.05},{"s":"i","V":16,"I":-0.05},{"s":"i","V":20,"I":0.1},{"s":"i","V":24,"I":-0.05},{"s":"i","V":28,"I":0.1},{"s":"i","V":32,"I":0.0},{"s":"i","V":36,"I":0.1},{"s":"i","V":40,"I":0.0},{"s":"i","V":44,"I":0.15},{"s":"i","V":48,"I":0.0},{"s":"i","V":52,"I":0.15},{"s":"i","V":56,"I":0.05},{"s":"i","V":60,"I":0.15},{"s":"i","V":64,"I":0.05},{"s":"i","V":68,"I":0.2},{"s":"i","V":72,"I":0.05},{"s":"i","V":76,"I":0.2},{"s":"i","V":80,"I":0.1},{"s":"i","V":84,"I":0.2},{"s":"i","V":88,"I":0.1},{"s":"i","V":92,"I":0.25},{"s":"i","V":96,"I":0.15},
      {"s":"ii","V":-88,"I":-3.45},{"s":"ii","V":-84,"I":-3.1},{"s":"ii","V":-80,"I":-3.05},{"s":"ii","V":-76,"I":-2.7},{"s":"ii","V":-72,"I":-2.6},{"s":"ii","V":-68,"I":-2.35},{"s":"ii","V":-64,"I":-2.25},{"s":"ii","V":-60,"I":-1.95},{"s":"ii","V":-56,"I":-1.9},{"s":"ii","V":-52,"I":-1.65},{"s":"ii","V":-48,"I":-1.55},{"s":"ii","V":-44,"I":-1.35},{"s":"ii","V":-40,"I":-1.25},{"s":"ii","V":-36,"I":-1.05},{"s":"ii","V":-32,"I":-1.0},{"s":"ii","V":-28,"I":-0.8},{"s":"ii","V":-24,"I":-0.8},{"s":"ii","V":-20,"I":-0.6},{"s":"ii","V":-16,"I":-0.6},{"s":"ii","V":-12,"I":-0.4},{"s":"ii","V":-8,"I":-0.45},{"s":"ii","V":-4,"I":-0.25},{"s":"ii","V":0,"I":-0.3},{"s":"ii","V":4,"I":-0.1},{"s":"ii","V":8,"I":-0.15},{"s":"ii","V":12,"I":0.0},{"s":"ii","V":16,"I":-0.1},{"s":"ii","V":20,"I":0.05},{"s":"ii","V":24,"I":-0.05},{"s":"ii","V":28,"I":0.1},{"s":"ii","V":32,"I":-0.05},{"s":"ii","V":36,"I":0.1},{"s":"ii","V":40,"I":0.0},{"s":"ii","V":44,"I":0.1},{"s":"ii","V":48,"I":0.0},{"s":"ii","V":52,"I":0.15},{"s":"ii","V":56,"I":0.0},{"s":"ii","V":60,"I":0.15},{"s":"ii","V":64,"I":0.05},{"s":"ii","V":68,"I":0.15},{"s":"ii","V":72,"I":0.05},{"s":"ii","V":76,"I":0.2},{"s":"ii","V":80,"I":0.05},{"s":"ii","V":84,"I":0.2},{"s":"ii","V":88,"I":0.1},{"s":"ii","V":92,"I":0.2},{"s":"ii","V":96,"I":0.1}
    ],
    "ivC": [
      {"s":"ii","V":-88,"I":-5.95},{"s":"ii","V":-84,"I":-5.35},{"s":"ii","V":-80,"I":-4.9},{"s":"ii","V":-76,"I":-4.35},{"s":"ii","V":-72,"I":-3.85},{"s":"ii","V":-68,"I":-3.5},{"s":"ii","V":-64,"I":-3.05},{"s":"ii","V":-60,"I":-2.8},{"s":"ii","V":-56,"I":-2.45},{"s":"ii","V":-52,"I":-2.25},{"s":"ii","V":-48,"I":-2.0},{"s":"ii","V":-44,"I":-1.9},{"s":"ii","V":-40,"I":-1.65},{"s":"ii","V":-36,"I":-1.6},{"s":"ii","V":-32,"I":-1.4},{"s":"ii","V":-28,"I":-1.4},{"s":"ii","V":-24,"I":-1.2},{"s":"ii","V":-20,"I":-1.15},{"s":"ii","V":-16,"I":-0.95},{"s":"ii","V":-12,"I":-0.95},{"s":"ii","V":-8,"I":-0.7},{"s":"ii","V":-4,"I":-0.65},{"s":"ii","V":0,"I":-0.45},{"s":"ii","V":4,"I":-0.4},{"s":"ii","V":8,"I":-0.2},{"s":"ii","V":12,"I":-0.25},{"s":"ii","V":16,"I":-0.05},{"s":"ii","V":20,"I":-0.15},{"s":"ii","V":24,"I":0.0},{"s":"ii","V":28,"I":-0.1},{"s":"ii","V":32,"I":0.05},{"s":"ii","V":36,"I":-0.05},{"s":"ii","V":40,"I":0.1},{"s":"ii","V":44,"I":-0.05},{"s":"ii","V":48,"I":0.1},{"s":"ii","V":52,"I":0.0},{"s":"ii","V":56,"I":0.1},{"s":"ii","V":60,"I":0.0},{"s":"ii","V":64,"I":0.15},{"s":"ii","V":68,"I":0.0},{"s":"ii","V":72,"I":0.15},{"s":"ii","V":76,"I":0.05},{"s":"ii","V":80,"I":0.15},{"s":"ii","V":84,"I":0.05},{"s":"ii","V":88,"I":0.15},{"s":"ii","V":92,"I":0.1},{"s":"ii","V":96,"I":0.15},
      {"s":"i","V":-88,"I":-1.2},{"s":"i","V":-84,"I":-1.1},{"s":"i","V":-80,"I":-1.2},{"s":"i","V":-76,"I":-1.0},{"s":"i","V":-72,"I":-1.05},{"s":"i","V":-68,"I":-0.85},{"s":"i","V":-64,"I":-0.95},{"s":"i","V":-60,"I":-0.75},{"s":"i","V":-56,"I":-0.85},{"s":"i","V":-52,"I":-0.65},{"s":"i","V":-48,"I":-0.75},{"s":"i","V":-44,"I":-0.55},{"s":"i","V":-40,"I":-0.65},{"s":"i","V":-36,"I":-0.45},{"s":"i","V":-32,"I":-0.55},{"s":"i","V":-28,"I":-0.35},{"s":"i","V":-24,"I":-0.45},{"s":"i","V":-20,"I":-0.25},{"s":"i","V":-16,"I":-0.35},{"s":"i","V":-12,"I":-0.2},{"s":"i","V":-8,"I":-0.3},{"s":"i","V":-4,"I":-0.1},{"s":"i","V":0,"I":-0.2},{"s":"i","V":4,"I":0.0},{"s":"i","V":8,"I":-0.1},{"s":"i","V":12,"I":0.05},{"s":"i","V":16,"I":-0.05},{"s":"i","V":20,"I":0.1},{"s":"i","V":24,"I":-0.05},{"s":"i","V":28,"I":0.1},{"s":"i","V":32,"I":0.0},{"s":"i","V":36,"I":0.1},{"s":"i","V":40,"I":0.0},{"s":"i","V":44,"I":0.15},{"s":"i","V":48,"I":0.0},{"s":"i","V":52,"I":0.1},{"s":"i","V":56,"I":0.05},{"s":"i","V":60,"I":0.15},{"s":"i","V":64,"I":0.0},{"s":"i","V":68,"I":0.15},{"s":"i","V":72,"I":0.05},{"s":"i","V":76,"I":0.15},{"s":"i","V":80,"I":0.05},{"s":"i","V":84,"I":0.2},{"s":"i","V":88,"I":0.05},{"s":"i","V":92,"I":0.15},{"s":"i","V":96,"I":0.1}
    ]
  }
}
